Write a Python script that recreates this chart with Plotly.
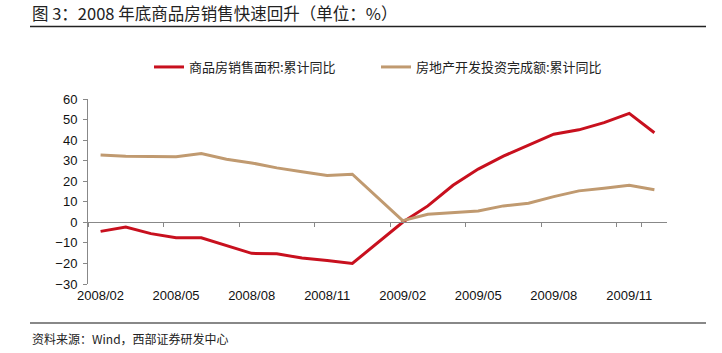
import plotly.graph_objects as go

months = ["2008/02", "2008/03", "2008/04", "2008/05", "2008/06", "2008/07", "2008/08",
          "2008/09", "2008/10", "2008/11", "2008/12", "2009/01", "2009/02", "2009/03",
          "2009/04", "2009/05", "2009/06", "2009/07", "2009/08", "2009/09", "2009/10",
          "2009/11", "2009/12"]
sales_area = [-4.4, -2.3, -5.5, -7.5, -7.5, -11.2, -15.1, -15.3, -17.4, -18.6, -20.0, None,
              0.0, 8.0, 18.0, 25.9, 32.2, 37.6, 42.9, 45.0, 48.5, 53.0, 43.6]
invest = [32.8, 32.2, 32.0, 31.9, 33.5, 30.7, 28.9, 26.5, 24.6, 22.8, 23.4, None,
          0.8, 3.9, 4.7, 5.5, 8.0, 9.3, 12.5, 15.3, 16.6, 18.0, 15.9]
tick_labels = months[::3]
name_sales = "商品房销售面积:累计同比"
name_invest = "房地产开发投资完成额:累计同比"
title_text = "图 3：2008 年底商品房销售快速回升（单位：%）"
source_text = "资料来源：Wind，西部证券研发中心"

RED = "#C8101E"
TAN = "#C09A70"
CJK = "Noto Sans CJK SC"
LAT = "Liberation Sans, Arial, sans-serif"

fig = go.Figure()
fig.add_trace(go.Scatter(x=months, y=sales_area, name=name_sales, mode="lines",
                         line=dict(color=RED, width=3), connectgaps=True))
fig.add_trace(go.Scatter(x=months, y=invest, name=name_invest, mode="lines",
                         line=dict(color=TAN, width=3), connectgaps=True))
# helper trace for the zero-line axis with boundary ticks
fig.add_trace(go.Scatter(x=months, y=[None] * len(months), xaxis="x2", mode="lines",
                         showlegend=False, hoverinfo="skip"))

W, H = 722, 353
L, R, T, B = 88, 55, 99, 69
pw, ph = W - L - R, H - T - B

def px_x(p):
    return (p - L) / pw

def px_y(p):
    return (H - B - p) / ph

fig.update_layout(
    width=W, height=H,
    margin=dict(l=L, r=R, t=T, b=B),
    paper_bgcolor="white", plot_bgcolor="white",
    showlegend=True,
    legend=dict(orientation="h", x=px_x(149), y=px_y(67), xanchor="left", yanchor="middle",
                font=dict(family=CJK, size=13, color="#222"),
                entrywidth=182, entrywidthmode="pixels",
                bgcolor="rgba(0,0,0,0)"),
    xaxis=dict(type="category", categoryorder="array", categoryarray=months,
               range=[-0.5, len(months) - 0.5],
               tickmode="array", tickvals=tick_labels, ticktext=tick_labels,
               showline=False, ticks="", showgrid=False, zeroline=False,
               ticklabelstandoff=2,
               tickfont=dict(family=LAT, size=13, color="#111")),
    xaxis2=dict(type="category", categoryorder="array", categoryarray=months,
                overlaying="x", anchor="free", position=1 / 3,
                range=[-0.5, len(months) - 0.5],
                tickmode="array", tickvals=tick_labels, tickson="boundaries",
                ticks="outside", ticklen=4, tickcolor="#888", tickwidth=1,
                showticklabels=False, showline=True, linecolor="#888", linewidth=1,
                showgrid=False, zeroline=False),
    yaxis=dict(range=[-30, 60], tickmode="linear", tick0=-30, dtick=10,
               showline=True, linecolor="#888", linewidth=1,
               ticks="outside", ticklen=4, tickcolor="#888",
               showgrid=False, zeroline=False, ticklabelstandoff=3,
               tickfont=dict(family=LAT, size=13, color="#111")),
)

fig.add_annotation(text=title_text, xref="paper", yref="paper",
                   x=px_x(30), y=px_y(13), xanchor="left", yanchor="middle",
                   showarrow=False, font=dict(family=CJK, size=16.5, color="#222"))
fig.add_annotation(text=source_text, xref="paper", yref="paper",
                   x=px_x(30), y=px_y(338), xanchor="left", yanchor="middle",
                   showarrow=False, font=dict(family=CJK, size=12, color="#222"))
fig.add_shape(type="line", xref="paper", yref="paper",
              x0=px_x(30), x1=px_x(706), y0=px_y(26.5), y1=px_y(26.5),
              line=dict(color="#222", width=1.5))
fig.add_shape(type="line", xref="paper", yref="paper",
              x0=px_x(30), x1=px_x(706), y0=px_y(323), y1=px_y(323),
              line=dict(color="#888", width=2))

fig.write_html("out.html")
